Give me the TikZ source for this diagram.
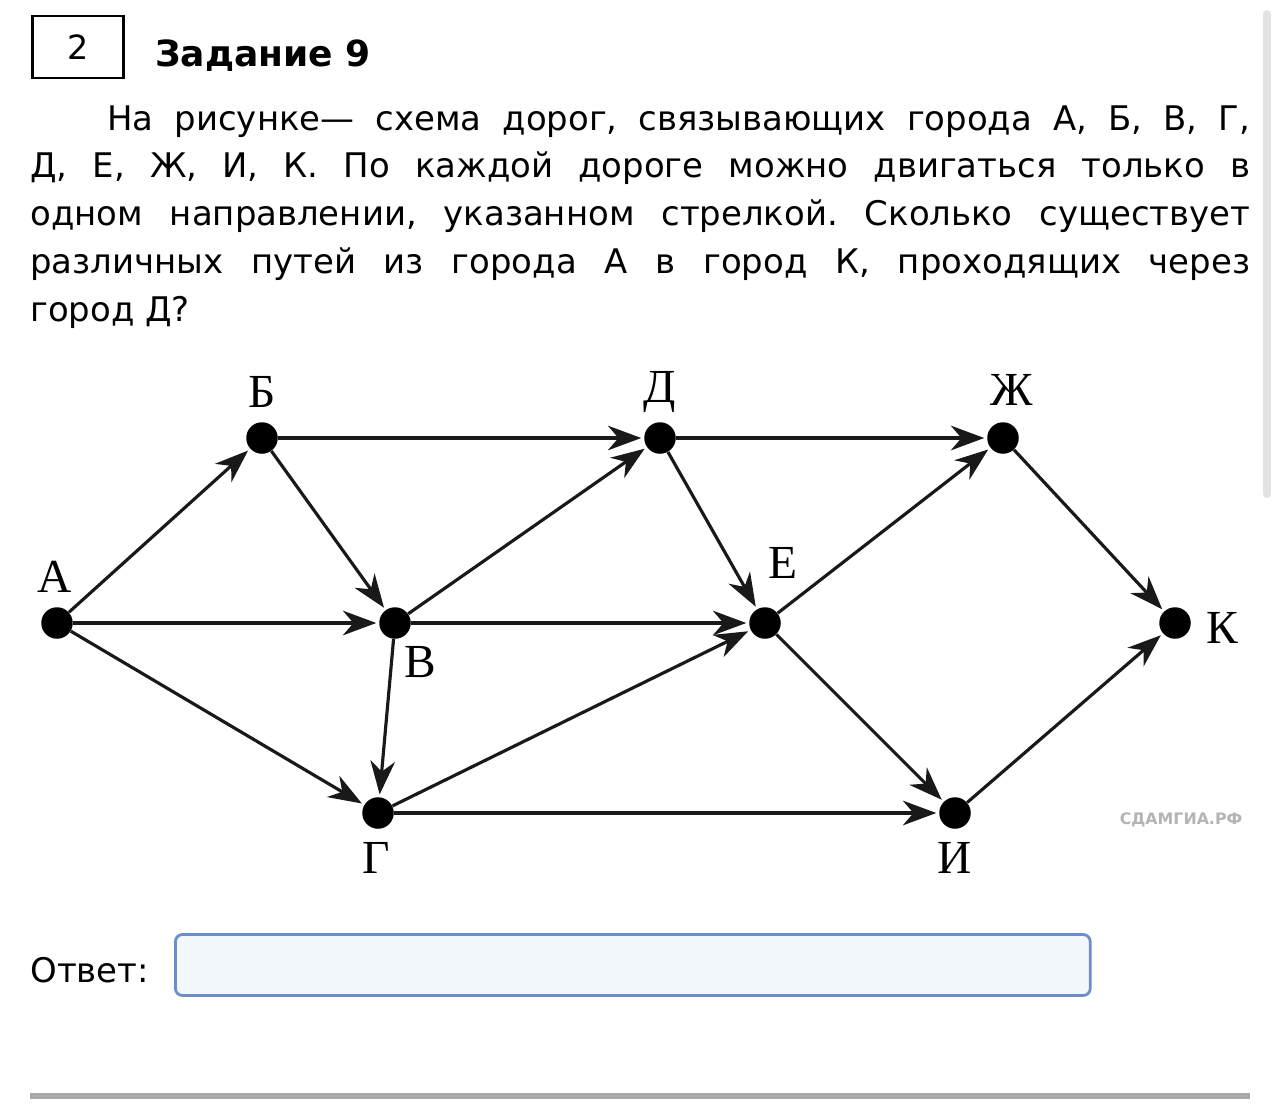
\documentclass[tikz,border=0pt]{standalone}
\usepackage{fontspec}
\setmainfont{DejaVu Sans}
\newfontfamily\cityfont{Liberation Serif}
\usetikzlibrary{arrows.meta}
\definecolor{boxblue}{HTML}{6E8DCB}
\definecolor{boxfill}{HTML}{F3F8FD}
\definecolor{rulegray}{HTML}{A9A9A9}
\definecolor{bargray}{HTML}{E2E2E2}
\definecolor{markgray}{HTML}{B4B4B4}
\frenchspacing
\tikzset{
  city/.style={circle,fill=black,inner sep=0pt,minimum size=0.63cm},
  cityname/.style={font=\cityfont\fontsize{27}{27}\selectfont,inner sep=0pt},
  road/.style={line width=1.8pt,draw=black!90,-{Stealth[length=19pt,width=14pt,inset=6pt]},shorten >=1.5pt},
}
\begin{document}
\begin{tikzpicture}[x=0.02cm,y=-0.02cm]
\useasboundingbox (0,0) rectangle (1280,1112);
% header
\node[draw,line width=1.7pt,minimum width=1.84cm,minimum height=1.24cm,inner sep=0pt] (num) at (78,47) {\fontsize{19}{19}\selectfont 2};
\node[anchor=base west,inner sep=0pt,font=\bfseries\fontsize{20.5}{20.5}\selectfont] (title) at (155,66) {Задание 9};
\node[anchor=base west,inner sep=0pt,text width=24.4cm,align=justify,font=\fontsize{19.3}{27.2}\selectfont] (task) at (30,130)
  {\hyphenpenalty=10000\hspace*{1.54cm}На рисунке— схема дорог, связывающих города А, Б, В, Г,\linebreak
   Д, Е, Ж, И, К. По каждой дороге можно двигаться только в\linebreak
   одном направлении, указанном стрелкой. Сколько существует\linebreak
   различных путей из города А в город К, проходящих через\linebreak
   город Д?};
% cities
\node[city] (A) at (57,623) {};
\node[city] (B) at (262,438) {};
\node[city] (V) at (395,623) {};
\node[city] (G) at (378,813) {};
\node[city] (D) at (660,438) {};
\node[city] (E) at (765,623) {};
\node[city] (Zh) at (1003,438) {};
\node[city] (I) at (955,813) {};
\node[city] (K) at (1175,623) {};
\node[cityname] (lA) at (55,577) {А};
\node[cityname] (lB) at (262,392) {Б};
\node[cityname] (lV) at (420,662) {В};
\node[cityname] (lG) at (376,858) {Г};
\node[cityname] (lD) at (660,392) {Д};
\node[cityname] (lE) at (783,563) {Е};
\node[cityname] (lZh) at (1012,390) {Ж};
\node[cityname] (lI) at (955,858) {И};
\node[cityname] (lK) at (1222,628) {К};
% roads
\foreach \s/\t in {A/B,A/V,A/G,B/D,B/V,V/D,V/E,V/G,G/E,G/I,D/Zh,D/E,E/Zh,E/I,Zh/K,I/K}
  \draw[road] (\s) -- (\t);
\node[text=markgray,font=\bfseries\fontsize{9}{9}\selectfont] (mark) at (1181,820) {СДАМГИА.РФ};
% answer
\node[anchor=base west,inner sep=0pt,font=\fontsize{19.3}{19.3}\selectfont] (ans) at (30,982) {Ответ:};
\node[draw=boxblue,fill=boxfill,line width=1.6pt,rounded corners=4pt,minimum width=18.3cm,minimum height=1.22cm,inner sep=0pt,anchor=west] (field) at (174,965) {};
\draw[rulegray,line width=3.5pt] (30,1096) -- (1250,1096);
\draw[bargray,line width=4.5pt,line cap=round] (1267,14) -- (1267,494);
\end{tikzpicture}
\end{document}
